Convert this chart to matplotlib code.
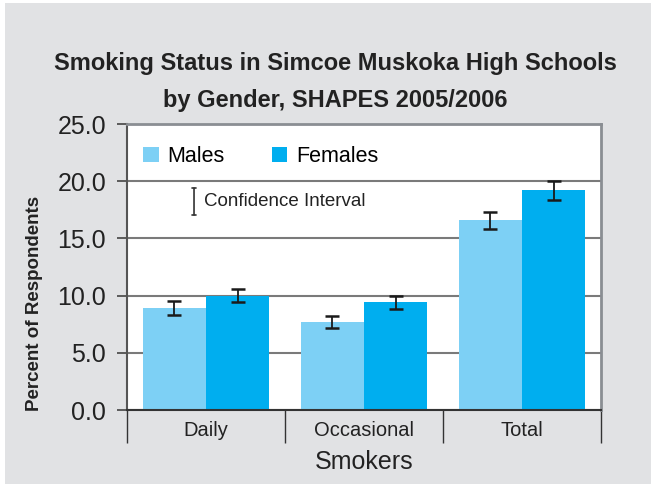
import numpy as np
import matplotlib
matplotlib.use("Agg")
import matplotlib.pyplot as plt
from matplotlib.patches import Patch, Rectangle

# 数据
categories = ["Daily", "Occasional", "Total"]
males = [8.9, 7.7, 16.6]
females = [10.0, 9.4, 19.2]
males_ci = [0.6, 0.55, 0.75]
females_ci = [0.6, 0.6, 0.8]
yticks = [0.0, 5.0, 10.0, 15.0, 20.0, 25.0]

plt.rcParams['font.family'] = ['Liberation Sans', 'DejaVu Sans']

male_color = '#7dd0f5'
female_color = '#00aeef'
bg_color = '#e1e2e4'

fig = plt.figure(figsize=(6.51, 4.84), dpi=100, facecolor='white')
# 灰色背景
fig.patches.append(Rectangle((5 / 651, 0), 1, 1 - 3 / 484, transform=fig.transFigure,
                             facecolor=bg_color, edgecolor='none', zorder=-10))

ax = fig.add_axes([127 / 651, 1 - 410 / 484, 474 / 651, 286 / 484])
ax.set_facecolor('white')

x = np.arange(len(categories))
w = 0.4
ax.bar(x - w / 2, males, width=w, color=male_color, zorder=2)
ax.bar(x + w / 2, females, width=w, color=female_color, zorder=2)
err_kw = dict(fmt='none', ecolor='#1a1a1a', elinewidth=1.3, capsize=5, capthick=1.8, zorder=3)
ax.errorbar(x - w / 2, males, yerr=males_ci, **err_kw)
ax.errorbar(x + w / 2, females, yerr=females_ci, **err_kw)

ax.set_xlim(-0.5, 2.5)
ax.set_ylim(0, 25)
ax.set_yticks(yticks)
ax.set_yticklabels([f"{v:.1f}" for v in yticks], fontsize=18, color='#222222')
ax.tick_params(axis='y', direction='out', length=7, width=1.2, color='#444444', pad=8)

# 分类边界刻度
ax.set_xticks(np.arange(-0.5, len(categories)), labels=[])
ax.tick_params(axis='x', which='major', direction='out', length=24, width=1, color='#333333')
ax.set_xticks(x, labels=categories, minor=True)
ax.tick_params(axis='x', which='minor', length=0, pad=8, labelsize=14.5, labelcolor='#222222')

ax.grid(axis='y', color='#7a7a7a', linewidth=1.5, zorder=1)
ax.set_axisbelow(True)
for side in ['top', 'right']:
    ax.spines[side].set_color('#8a8e93')
    ax.spines[side].set_linewidth(2)
ax.spines['left'].set_color('#555555')
ax.spines['left'].set_linewidth(1.5)
ax.spines['bottom'].set_color('#333333')
ax.spines['bottom'].set_linewidth(1.5)

# 图例
handles = [Patch(facecolor=male_color, label='Males'), Patch(facecolor=female_color, label='Females')]
ax.legend(handles=handles, ncol=2, frameon=False, fontsize=15.5, loc='center left',
          bbox_to_anchor=(0.034, 0.886), borderaxespad=0, borderpad=0,
          handlelength=0.72, handleheight=0.72, handletextpad=0.4, columnspacing=2.2)

ax.annotate('', xy=(0.1414, 0.776), xytext=(0.1414, 0.682), xycoords='axes fraction',
            arrowprops=dict(arrowstyle='|-|,widthA=0.15,widthB=0.15', lw=1.2, color='#333333',
                            shrinkA=0, shrinkB=0))
ax.text(0.1624, 0.729, 'Confidence Interval', transform=ax.transAxes, fontsize=13.5,
        va='center', ha='left', color='#222222')

fig.text(335 / 651, 1 - 63 / 484, 'Smoking Status in Simcoe Muskoka High Schools',
         ha='center', va='center', fontsize=17, fontweight='bold', color='#222222')
fig.text(335 / 651, 1 - 100 / 484, 'by Gender, SHAPES 2005/2006',
         ha='center', va='center', fontsize=17, fontweight='bold', color='#222222')
fig.text(35 / 651, 1 - 303 / 484, 'Percent of Respondents', rotation=90,
         ha='center', va='center', fontsize=13.5, fontweight='bold', color='#222222')
fig.text(364 / 651, 1 - 462 / 484, 'Smokers', ha='center', va='center', fontsize=18,
         color='#222222')

fig.savefig('out.png', dpi=100, facecolor=fig.get_facecolor())
